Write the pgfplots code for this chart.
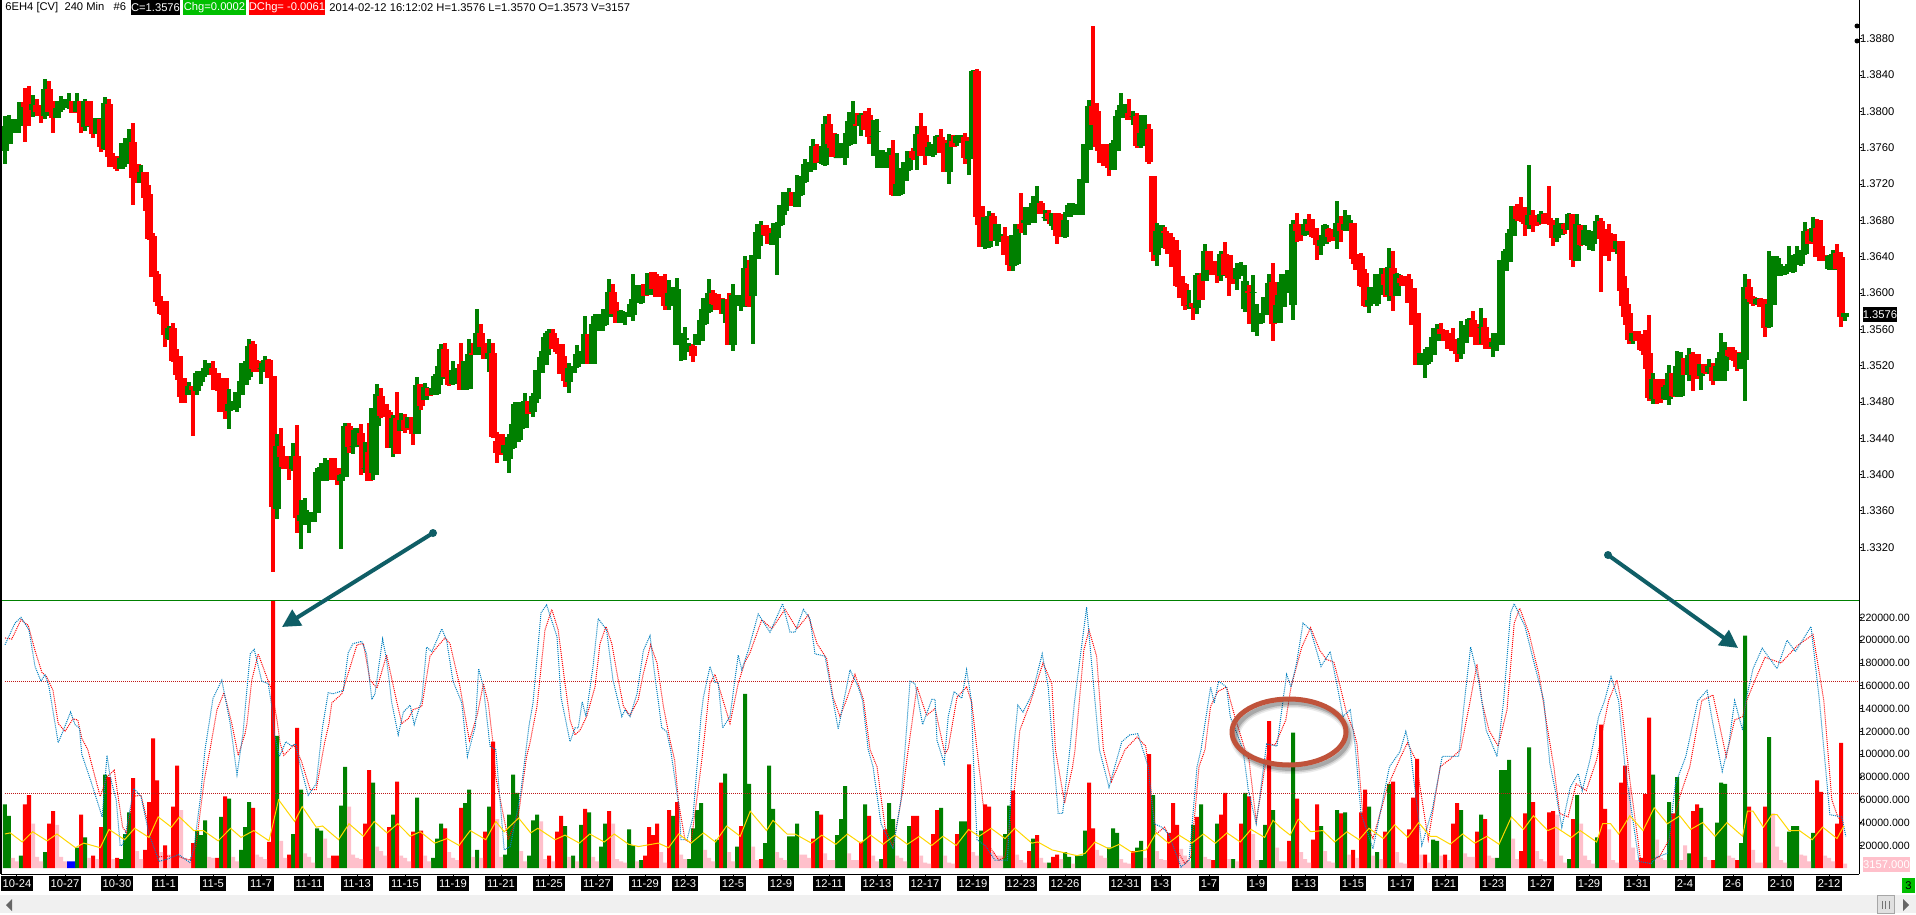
\documentclass[border=0pt]{standalone}
\usepackage{fontspec}
\setmainfont{Liberation Sans}
\usepackage{pgfplots}
\usepackage{pgfplotstable}
\pgfplotsset{compat=1.18}
\usetikzlibrary{arrows.meta}
\definecolor{candg}{HTML}{008000}
\definecolor{candr}{HTML}{FF0000}
\definecolor{volp}{HTML}{FFC0CB}
\definecolor{stochb}{HTML}{0080C0}
\definecolor{lvl}{HTML}{C01818}
\definecolor{arrowc}{HTML}{0F5E66}
\definecolor{ovalc}{HTML}{C0533B}
\pgfdeclareplotmark{nothing}{}
\newcommand{\sm}{\fontsize{5.6}{6.5}\selectfont}
\newcommand{\smv}{\fontsize{5.3}{6.5}\selectfont}

% candles, one row per 240 min bar, prices in 1/10000
\pgfplotstableread{
o h l c
13757 13794 13743 13783
13765 13796 13765 13791
13777 13789 13777 13789
13777 13791 13777 13791
13785 13810 13785 13810
13810 13825 13767 13806
13809 13828 13784 13801
13802 13818 13794 13808
13807 13813 13796 13800
13806 13807 13788 13796
13796 13835 13792 13824
13824 13833 13800 13800
13811 13811 13777 13793
13793 13811 13793 13803
13802 13817 13800 13809
13805 13813 13805 13813
13805 13820 13803 13811
13811 13811 13799 13799
13800 13820 13800 13811
13811 13811 13777 13788
13784 13813 13779 13811
13811 13811 13785 13785
13791 13791 13771 13776
13776 13792 13776 13792
13791 13791 13756 13761
13759 13816 13758 13809
13808 13813 13739 13750
13750 13754 13739 13741
13750 13750 13735 13737
13737 13765 13737 13748
13743 13770 13739 13765
13747 13780 13745 13765
13766 13787 13698 13727
13742 13742 13722 13722
13722 13741 13722 13733
13733 13733 13691 13705
13709 13718 13659 13660
13662 13666 13618 13618
13621 13624 13586 13591
13591 13596 13577 13578
13591 13591 13541 13554
13550 13563 13549 13561
13561 13567 13525 13526
13529 13538 13505 13510
13506 13530 13480 13486
13497 13506 13480 13488
13488 13502 13488 13497
13497 13497 13443 13494
13493 13514 13488 13512
13503 13514 13498 13514
13511 13526 13508 13517
13512 13523 13510 13516
13517 13525 13494 13510
13511 13511 13493 13499
13506 13506 13470 13470
13506 13506 13462 13470
13471 13494 13451 13477
13472 13481 13472 13481
13474 13491 13470 13491
13488 13523 13488 13503
13499 13525 13499 13514
13508 13549 13505 13541
13543 13547 13514 13517
13525 13526 13514 13514
13517 13522 13501 13517
13514 13530 13514 13526
13526 13527 13507 13507
13508 13508 13294 13365
13363 13444 13352 13431
13431 13451 13409 13420
13420 13420 13407 13407
13415 13418 13395 13408
13407 13434 13405 13420
13420 13454 13336 13353
13350 13372 13319 13355
13345 13374 13350 13361
13350 13358 13336 13358
13348 13358 13348 13358
13358 13407 13358 13402
13405 13413 13399 13408
13394 13418 13394 13407
13405 13416 13406 13415
13418 13418 13395 13395
13407 13407 13389 13395
13394 13400 13319 13399
13398 13456 13398 13453
13453 13456 13425 13431
13431 13449 13423 13431
13431 13451 13431 13451
13445 13455 13400 13433
13407 13436 13402 13407
13425 13456 13395 13394
13403 13473 13395 13473
13454 13499 13400 13488
13486 13495 13463 13465
13477 13477 13464 13464
13469 13471 13430 13430
13430 13465 13420 13462
13462 13491 13435 13424
13449 13467 13449 13460
13460 13466 13447 13450
13452 13463 13452 13463
13463 13463 13433 13445
13445 13507 13445 13498
13499 13499 13472 13476
13483 13500 13483 13496
13495 13495 13487 13487
13489 13508 13488 13495
13489 13519 13488 13510
13506 13544 13499 13538
13538 13544 13509 13508
13515 13515 13498 13499
13501 13525 13499 13515
13502 13517 13501 13517
13521 13544 13494 13494
13494 13525 13494 13525
13495 13549 13495 13533
13533 13544 13532 13532
13533 13582 13533 13556
13556 13565 13541 13541
13543 13544 13528 13528
13528 13549 13514 13534
13534 13544 13441 13442
13437 13447 13414 13425
13444 13444 13422 13431
13424 13432 13416 13432
13418 13444 13403 13441
13430 13478 13429 13455
13437 13480 13437 13480
13451 13480 13439 13480
13452 13489 13452 13481
13481 13481 13468 13468
13470 13490 13464 13486
13484 13515 13480 13515
13513 13536 13513 13529
13522 13556 13522 13551
13545 13560 13533 13558
13556 13560 13539 13539
13538 13550 13534 13536
13543 13543 13512 13512
13512 13530 13497 13504
13503 13523 13491 13517
13513 13519 13513 13519
13519 13542 13518 13532
13528 13536 13527 13532
13522 13574 13522 13554
13554 13554 13523 13523
13523 13574 13523 13565
13561 13577 13559 13576
13559 13572 13559 13571
13565 13582 13564 13582
13574 13615 13574 13601
13601 13610 13578 13578
13578 13590 13568 13568
13568 13581 13568 13580
13574 13578 13565 13579
13574 13588 13574 13578
13576 13621 13570 13593
13593 13609 13590 13609
13590 13609 13589 13609
13609 13609 13597 13597
13599 13622 13598 13622
13623 13623 13605 13605
13616 13621 13596 13596
13611 13618 13596 13601
13600 13620 13582 13586
13586 13614 13582 13600
13587 13606 13586 13604
13543 13616 13543 13604
13543 13555 13526 13550
13549 13562 13527 13550
13537 13544 13536 13543
13541 13544 13525 13531
13543 13554 13543 13554
13548 13582 13548 13570
13567 13594 13566 13594
13580 13615 13579 13600
13600 13603 13588 13589
13599 13599 13582 13582
13594 13594 13578 13582
13578 13593 13568 13593
13593 13600 13543 13543
13543 13610 13537 13597
13591 13597 13586 13597
13587 13596 13581 13596
13587 13640 13585 13627
13627 13636 13585 13587
13598 13642 13545 13641
13638 13676 13638 13667
13664 13679 13653 13674
13674 13675 13664 13665
13671 13671 13655 13655
13654 13677 13653 13666
13661 13678 13620 13676
13675 13697 13674 13696
13691 13711 13686 13711
13703 13715 13702 13703
13711 13711 13697 13697
13695 13730 13695 13711
13709 13728 13708 13727
13723 13747 13722 13742
13734 13744 13734 13743
13736 13769 13736 13762
13762 13764 13744 13744
13744 13761 13743 13744
13742 13794 13741 13786
13786 13797 13760 13765
13776 13776 13751 13751
13749 13775 13749 13749
13749 13765 13749 13765
13749 13776 13742 13764
13764 13799 13763 13789
13765 13811 13765 13787
13786 13798 13785 13785
13785 13798 13774 13796
13796 13800 13780 13780
13796 13803 13765 13772
13772 13790 13751 13772
13778 13791 13738 13778
13738 13757 13738 13757
13738 13755 13738 13754
13742 13759 13741 13752
13752 13768 13708 13709
13708 13754 13708 13720
13710 13737 13709 13724
13724 13744 13724 13744
13736 13756 13735 13756
13756 13759 13747 13749
13757 13784 13736 13775
13775 13798 13752 13752
13774 13784 13742 13753
13752 13766 13752 13760
13753 13764 13751 13760
13756 13773 13755 13772
13771 13780 13755 13755
13768 13768 13734 13734
13734 13775 13721 13765
13767 13773 13761 13761
13766 13773 13762 13772
13767 13774 13766 13773
13771 13776 13743 13749
13748 13767 13731 13767
13755 13845 13754 13844
13844 13846 13675 13684
13695 13695 13651 13651
13651 13683 13649 13683
13651 13690 13650 13684
13684 13688 13658 13658
13658 13676 13652 13676
13658 13665 13657 13663
13662 13672 13642 13642
13642 13646 13625 13631
13631 13664 13625 13663
13633 13676 13632 13676
13676 13710 13667 13671
13678 13694 13665 13680
13680 13694 13676 13686
13678 13707 13678 13699
13699 13717 13694 13699
13699 13701 13688 13688
13683 13691 13680 13683
13688 13691 13677 13682
13674 13688 13670 13688
13688 13688 13655 13663
13686 13687 13662 13662
13662 13689 13661 13680
13684 13699 13684 13697
13687 13699 13687 13697
13687 13697 13687 13698
13687 13725 13686 13725
13722 13764 13722 13764
13758 13812 13758 13806
13806 13894 13786 13786
13800 13809 13757 13761
13764 13764 13744 13744
13764 13764 13741 13741
13751 13760 13729 13738
13736 13768 13736 13765
13757 13801 13757 13795
13793 13820 13793 13807
13798 13808 13798 13808
13798 13813 13791 13791
13794 13800 13786 13794
13794 13798 13760 13763
13763 13796 13760 13776
13764 13795 13763 13779
13780 13786 13743 13745
13728 13728 13636 13646
13643 13677 13631 13668
13651 13674 13650 13674
13668 13672 13649 13667
13666 13666 13644 13644
13654 13661 13629 13629
13647 13658 13607 13608
13618 13618 13595 13595
13610 13611 13582 13587
13587 13603 13583 13587
13589 13589 13571 13585
13584 13622 13577 13619
13619 13622 13593 13593
13614 13654 13614 13646
13646 13646 13626 13626
13635 13635 13621 13621
13633 13633 13612 13621
13620 13646 13614 13643
13643 13656 13620 13620
13641 13641 13597 13617
13619 13623 13611 13611
13616 13633 13604 13627
13620 13634 13620 13630
13583 13630 13580 13613
13602 13609 13567 13601
13601 13619 13558 13601
13568 13587 13553 13577
13568 13575 13567 13578
13576 13595 13576 13595
13587 13621 13576 13611
13612 13633 13548 13567
13568 13597 13568 13587
13586 13621 13568 13612
13601 13621 13585 13612
13601 13621 13601 13625
13588 13680 13571 13676
13676 13688 13657 13669
13676 13676 13658 13666
13664 13681 13663 13676
13676 13686 13669 13669
13671 13681 13661 13662
13663 13671 13637 13653
13652 13663 13643 13658
13655 13676 13655 13674
13670 13671 13657 13662
13670 13670 13658 13663
13662 13701 13649 13677
13677 13684 13657 13669
13670 13691 13669 13676
13670 13685 13669 13680
13677 13677 13633 13638
13642 13642 13626 13626
13640 13644 13607 13608
13622 13626 13585 13586
13586 13606 13579 13592
13589 13606 13589 13606
13589 13620 13586 13620
13599 13627 13599 13620
13620 13627 13596 13610
13599 13649 13592 13628
13627 13646 13581 13598
13597 13622 13597 13621
13616 13620 13608 13612
13616 13618 13608 13608
13615 13621 13590 13590
13605 13605 13565 13565
13578 13578 13521 13521
13521 13534 13521 13534
13521 13538 13507 13534
13525 13540 13523 13540
13533 13561 13533 13551
13548 13566 13548 13558
13560 13567 13556 13556
13559 13559 13548 13548
13549 13555 13539 13539
13549 13561 13537 13537
13543 13543 13525 13534
13534 13569 13528 13550
13546 13564 13546 13564
13554 13572 13554 13571
13570 13580 13552 13552
13564 13565 13543 13543
13562 13583 13545 13562
13562 13572 13539 13543
13546 13550 13539 13542
13541 13556 13530 13546
13544 13555 13537 13548
13544 13636 13544 13636
13625 13648 13625 13646
13635 13670 13635 13666
13664 13695 13663 13695
13695 13698 13680 13682
13693 13705 13679 13680
13684 13694 13663 13677
13676 13741 13671 13685
13685 13691 13668 13675
13682 13683 13674 13675
13679 13690 13677 13687
13687 13688 13677 13677
13682 13718 13676 13677
13679 13680 13653 13661
13661 13682 13657 13674
13665 13677 13664 13676
13676 13677 13666 13671
13670 13688 13670 13687
13687 13687 13629 13637
13636 13686 13636 13675
13674 13674 13653 13654
13654 13674 13653 13669
13653 13669 13648 13668
13655 13665 13647 13664
13660 13685 13660 13679
13679 13682 13602 13660
13670 13670 13641 13660
13666 13676 13636 13659
13665 13665 13646 13649
13649 13657 13644 13657
13657 13657 13586 13603
13605 13618 13566 13574
13578 13588 13545 13549
13548 13556 13545 13555
13558 13558 13548 13548
13555 13555 13537 13538
13548 13559 13517 13532
13534 13575 13482 13485
13484 13511 13479 13505
13505 13505 13479 13484
13505 13505 13480 13483
13484 13498 13483 13496
13484 13520 13477 13512
13512 13512 13486 13487
13487 13536 13486 13519
13487 13535 13486 13526
13528 13528 13510 13510
13511 13539 13504 13531
13532 13535 13493 13510
13532 13533 13506 13509
13509 13522 13494 13522
13522 13522 13512 13513
13514 13527 13512 13519
13518 13523 13499 13504
13504 13528 13504 13519
13509 13556 13504 13535
13515 13546 13504 13534
13537 13540 13530 13531
13537 13540 13526 13527
13535 13535 13515 13519
13517 13534 13517 13534
13527 13621 13482 13606
13606 13615 13591 13594
13595 13596 13586 13589
13589 13594 13588 13593
13593 13594 13585 13585
13592 13593 13552 13562
13563 13646 13562 13588
13587 13640 13587 13622
13620 13640 13619 13638
13620 13631 13619 13629
13622 13627 13621 13626
13626 13651 13625 13631
13624 13641 13623 13641
13631 13651 13631 13642
13633 13647 13631 13645
13644 13678 13643 13668
13668 13670 13655 13655
13658 13683 13657 13671
13671 13681 13640 13640
13651 13680 13636 13636
13641 13642 13636 13636
13627 13641 13626 13640
13626 13647 13626 13642
13644 13654 13627 13627
13639 13645 13563 13574
13574 13578 13570 13578
}\candles

% volume in thousands; t: 0 green, 1 red, 2 pink, 3 blue
\pgfplotstableread{
v t
56 0
46 0
9 2
6 2
11 0
56 1
64 1
39 2
10 2
6 2
14 0
39 1
50 1
38 2
10 2
6 2
6 3
6 3
18 0
47 1
27 0
9 2
11 1
8 2
36 1
82 0
80 1
8 2
9 1
8 0
30 0
49 0
79 1
15 2
8 2
16 1
58 1
114 1
77 1
14 2
20 1
12 2
54 1
90 1
51 2
9 2
6 2
22 1
33 0
29 0
42 0
10 2
9 2
9 1
45 0
63 1
61 0
10 2
6 2
16 0
36 0
58 0
53 1
12 2
10 2
8 2
23 1
235 1
116 0
24 2
9 2
12 1
30 0
123 1
69 0
13 2
10 2
5 2
35 0
33 0
26 2
9 2
11 1
11 1
55 0
89 0
54 2
12 2
9 2
8 2
39 1
86 1
75 0
19 2
15 2
11 2
36 1
47 0
76 1
11 2
9 2
6 2
32 1
62 0
33 1
11 2
6 2
9 0
26 0
39 0
35 1
14 2
9 2
7 2
53 1
57 0
69 0
10 2
16 0
9 2
32 1
54 0
111 1
43 2
10 2
12 0
47 0
82 0
66 0
15 2
6 2
11 0
42 0
47 0
41 2
8 2
11 1
6 2
32 1
46 1
37 0
10 2
11 0
6 2
38 0
52 1
49 0
10 2
6 2
19 0
39 0
50 1
39 2
8 2
6 2
5 2
34 0
20 0
6 2
7 0
11 1
36 1
29 1
39 1
14 2
5 2
51 1
46 0
58 1
12 2
8 2
8 0
35 0
51 0
57 0
16 2
9 2
6 2
25 0
75 1
83 0
14 2
6 2
19 0
37 1
153 0
74 0
19 2
7 2
8 1
22 0
90 0
52 0
14 2
9 2
7 2
28 0
28 0
39 0
12 2
12 2
9 2
26 1
50 0
47 1
13 2
7 2
7 2
29 0
43 0
72 0
13 2
7 2
7 2
23 1
56 0
46 1
11 2
6 2
8 0
34 1
57 0
43 0
11 2
9 2
6 2
37 0
46 1
46 1
11 2
5 2
4 2
30 1
51 1
53 0
11 2
5 2
4 2
30 1
41 0
41 0
91 1
14 2
11 2
33 0
56 1
54 1
14 2
11 2
11 2
30 0
55 0
68 1
12 2
7 2
5 2
15 1
26 0
29 1
9 2
5 2
5 0
10 1
12 1
8 2
14 0
10 0
4 2
11 0
11 0
33 0
75 1
35 1
16 2
11 2
9 2
18 0
35 0
31 0
8 2
5 2
4 2
15 1
18 0
24 0
9 2
100 1
64 0
15 2
8 2
7 2
31 1
57 1
38 1
17 2
11 2
6 2
38 0
45 1
56 0
10 2
8 2
7 1
39 0
47 1
66 1
8 2
8 0
6 2
39 1
66 0
63 1
30 2
7 2
7 0
38 0
129 1
51 0
18 2
6 2
6 2
24 1
119 0
61 1
14 2
8 2
5 2
25 1
56 1
37 0
15 2
6 2
5 2
51 0
48 1
49 0
12 2
16 1
9 2
49 1
69 1
54 0
11 2
14 0
8 2
32 1
74 0
76 1
14 2
5 2
4 2
34 1
62 1
96 1
12 2
12 1
5 2
25 0
24 0
11 2
12 1
7 2
39 1
57 1
51 0
13 2
10 2
10 2
32 1
47 0
43 1
11 2
9 2
9 0
86 0
86 0
95 0
26 2
8 2
15 1
48 1
106 0
58 1
15 2
8 2
6 2
49 1
50 1
47 2
11 2
5 2
8 0
43 1
64 0
39 2
11 2
7 2
4 2
27 0
126 1
52 1
34 2
7 2
5 2
75 1
90 1
71 2
18 2
7 2
9 1
65 1
132 1
82 0
25 2
9 2
7 2
58 0
48 1
80 0
7 2
20 2
13 0
50 1
56 1
53 0
10 2
7 2
7 1
40 0
75 0
74 0
11 2
9 2
7 1
22 0
204 0
54 1
16 2
5 2
5 2
54 1
115 0
48 2
19 2
7 2
5 2
32 0
37 0
37 0
12 2
11 2
6 2
31 0
77 1
67 1
11 2
9 2
6 2
39 1
110 1
4 2
}\volumes

\begin{document}
\begin{tikzpicture}
\path[use as bounding box] (0,0) rectangle (958pt,-457.5pt);
\fill[white] (0,0) rectangle (958pt,-457.5pt);

% price panel
\begin{axis}[
  at={(0.75pt,-300pt)}, anchor=south west,
  scale only axis, width=928.75pt, height=300pt,
  xmin=-0.875, xmax=463.5, ymin=1.3262, ymax=1.39226,
  axis x line=none, axis y line*=right,
  axis line style={draw=none},
  ytick={1.332,1.336,1.34,1.344,1.348,1.352,1.356,1.36,1.364,1.368,1.372,1.376,1.38,1.384,1.388},
  scaled y ticks=false,
  tick align=outside, major tick length=1.5pt,
  tick style={black,line width=0.5pt},
  yticklabel style={font=\sm,anchor=west,inner xsep=0pt,xshift=-1.2pt,
    /pgf/number format/fixed,/pgf/number format/fixed zerofill,
    /pgf/number format/precision=4,/pgf/number format/assume math mode=true},
]
\addplot[
  scatter, only marks, mark=nothing,
  visualization depends on=\thisrow{o}\as\vo,
  visualization depends on=\thisrow{h}\as\vh,
  visualization depends on=\thisrow{l}\as\vl,
  visualization depends on=\thisrow{c}\as\vc,
  scatter/@pre marker code/.code={%
    \ifdim\vc pt<\vo pt\def\barcol{candr}\else\def\barcol{candg}\fi
    \fill[color=\barcol] (-0.75pt,{(\vh-\vc)*0.4541pt}) rectangle (0.75pt,{(\vl-\vc)*0.4541pt});
    \fill[color=\barcol] (-1.75pt,0pt) rectangle (1.75pt,{(\vo-\vc)*0.4541pt});
  },
  scatter/@post marker code/.code={},
] table[x expr=\coordindex, y expr=\thisrow{c}/10000] {\candles};
\end{axis}

% volume and stochastic panel
\begin{axis}[
  at={(0.75pt,-437pt)}, anchor=south west,
  scale only axis, width=928.75pt, height=137pt,
  xmin=-0.875, xmax=463.5, ymin=-5.09, ymax=235.27,
  axis x line*=bottom, axis y line*=right,
  axis line style={black,line width=0.5pt,-},
  unbounded coords=discard,
  xtick={3,15,28,40,52,64,76,88,100,112,124,136,148,160,170,182,194,206,218,230,242,254,265,280,289,301,313,325,337,349,360,372,384,396,408,420,432,444,456},
  xticklabels={10-24,10-27,10-30,11-1,11-5,11-7,11-11,11-13,11-15,11-19,11-21,11-25,11-27,11-29,12-3,12-5,12-9,12-11,12-13,12-17,12-19,12-23,12-26,12-31,1-3,1-7,1-9,1-13,1-15,1-17,1-21,1-23,1-27,1-29,1-31,2-4,2-6,2-10,2-12},
  ytick={20,40,...,220},
  yticklabels={20000.000,40000.000,60000.000,80000.000,100000.00,120000.00,140000.00,160000.00,180000.00,200000.00,220000.00},
  tick align=outside, major tick length=1.5pt,
  tick style={black,line width=0.5pt},
  yticklabel style={font=\smv,anchor=west,inner xsep=0pt,xshift=-1.4pt},
  xticklabel style={font=\sm,text=white,fill=black,inner xsep=1pt,inner ysep=0pt,
    minimum height=7.5pt,anchor=north,yshift=0.5pt},
  bar shift=0pt, bar width=2pt,
]
\addplot[ybar,fill=candg,draw=none] table[x expr={\thisrow{t}==0?\coordindex:nan}, y=v] {\volumes};
\addplot[ybar,fill=candr,draw=none] table[x expr={\thisrow{t}==1?\coordindex:nan}, y=v] {\volumes};
\addplot[ybar,fill=volp,draw=none] table[x expr={\thisrow{t}==2?\coordindex:nan}, y=v] {\volumes};
\addplot[ybar,fill=blue,draw=none] table[x expr={\thisrow{t}==3?\coordindex:nan}, y=v] {\volumes};
\addplot[lvl,line width=0.5pt,dash pattern=on 0.5pt off 0.5pt] coordinates {(0,164) (463.5,164)};
\addplot[lvl,line width=0.5pt,dash pattern=on 0.5pt off 0.5pt] coordinates {(0,65.7) (463.5,65.7)};
% slow line
\addplot[candr,line width=0.5pt,dash pattern=on 0.5pt off 0.5pt] coordinates {
(0,202)(1.7,201)(4,218)(5.8,213)(7.5,191)(9.2,172)(10.4,168)(12,156)(13.3,127)(15,120)(17,131)(18.2,130)(19.2,114)(20.7,104)(23.8,63)(25.5,80)(27.3,86)(29.4,36)(30.4,31)(32,63)(34,64)(36.5,28)(38.5,10)(42.6,11)(46.2,7)(47.7,19)(49.8,77)(51.25,104)(53,139)(54.75,154)(56.7,127)(58.3,99)(60,118)(60.5,127)(61.7,165)(63.3,188)(65.4,168)(66.7,156)(68,130)(68.75,110)(69.7,99)(72.2,108)(74,95)(76.3,69)(77.8,69)(79.9,110)(81,127)(81.7,145)(84.2,153)(85.8,171)(88,196)(89.6,197)(91.25,165)(93,158)(95.4,187)(98,145)(99.2,127)(100.8,131)(102,139)(104.2,142)(106.25,186)(108,194)(110,202)(111.25,197)(113.75,159)(116.1,112)(118.1,135)(119.6,162)(120.8,145)(122,110)(122.7,80)(125.8,25)(128.4,48)(130.4,98)(131.25,110)(133,142)(135,209)(136.7,227)(138.3,209)(140,162)(141.25,130)(142.5,117)(143.75,121)(145.4,133)(147.5,159)(148.75,197)(150.25,212)(151.7,197)(153,171)(154.6,142)(156.25,134)(158.3,148)(159.6,171)(161.4,196)(163,180)(164.6,142)(166.25,112)(167.4,95)(168.4,57)(170,25)(171.5,22)(174,89)(175,120)(176.25,162)(177.5,170)(178.75,156)(181.25,127)(183.3,162)(185,181)(186.25,189)(189.2,218)(191.7,210)(195,227)(198,210)(200.8,222)(203,197)(205.4,184)(207,150)(208.75,133)(210.4,148)(212.5,170)(214.6,148)(216.25,104)(218,89)(220,36)(222,19)(224.6,71)(225.8,104)(228,159)(230.4,134)(232.5,140)(235,100)(235.8,105)(238,150)(240.4,159)(241.7,145)(243,104)(244,74)(245.5,22)(248.5,7)(250,10)(252.1,60)(253.7,121)(256.3,145)(259.5,180)(261.7,162)(262.6,104)(264.9,57)(266.9,89)(267.5,104)(269.7,191)(271,209)(272.9,186)(274.6,104)(276.6,76)(280,104)(283,115)(285.2,107)(286.3,74)(287.8,30)(289.9,36)(292.4,19)(295,4)(296.5,10)(298.5,89)(300,104)(301.4,142)(303.2,155)(305.4,159)(307.7,130)(310,104)(311,95)(312.8,41)(315,89)(316,109)(317.5,108)(320.2,130)(321.5,159)(324.2,194)(326.4,211)(328.7,191)(330.4,183)(332.2,181)(333.6,162)(335.4,136)(337.1,121)(338,109)(339.5,45)(342,26)(345.6,71)(348.7,96)(350.6,110)(352.7,95)(355.8,25)(358.8,89)(361.4,96)(363.9,104)(366.2,145)(368,179)(369.3,145)(371,121)(373.3,107)(375.5,139)(377.3,215)(378.7,228)(381,206)(383.6,168)(385.4,127)(387.2,89)(388.7,48)(390.75,45)(392.8,74)(395.3,68)(397.9,95)(400.9,147)(403,165)(404,147)(406,83)(409,4)(413.6,10)(416,25)(418.7,63)(421.2,89)(424.2,147)(427,152)(430.3,98)(432.4,130)(434.4,133)(435.4,147)(437.5,165)(440,185)(444,180)(448,195)(452,205)(454.7,147)(456.7,60)(458.2,45)(459.7,39)
};
% fast line
\addplot[stochb,line width=0.5pt,dash pattern=on 0.5pt off 0.5pt] coordinates {
(0,196)(2.5,215)(4,220)(6,209)(7.5,177)(9,164)(10,170)(11,159)(13.3,110)(14.6,121)(16.4,137)(17.5,126)(18.6,123)(19.2,100)(21.5,76)(24.3,45)(25.5,99)(26.3,80)(27.8,60)(28.8,20)(29.4,20)(30.4,35)(32.2,70)(34,63)(36,30)(38.5,6)(40.6,8)(43.4,12)(46.2,5)(47.2,17)(48.8,60)(50,104)(52,149)(54.2,165)(56.3,127)(58,82)(59.5,118)(60.3,150)(61.3,188)(62.3,192)(64.2,164)(65.8,162)(66.7,142)(67.3,118)(68.6,98)(70.2,111)(71.7,107)(72.7,109)(73.7,92)(75.8,64)(77.8,74)(79.3,122)(80.8,154)(82,153)(84.6,156)(85.8,189)(87,197)(89.2,199)(90.4,188)(91.7,148)(92.5,153)(94.4,201)(95.4,183)(96.7,145)(98.3,117)(99.6,137)(101.3,143)(102.3,126)(104.2,148)(105.4,194)(106.7,190)(109.2,210)(110.4,200)(112,164)(114.2,145)(115.6,98)(117.6,125)(118.4,175)(119.6,159)(121.25,107)(122.7,104)(124.8,16)(126.3,19)(128.8,63)(131,125)(132,145)(134,224)(135.4,231)(138,203)(139,150)(141.25,111)(142.5,123)(143.3,123)(144.3,146)(145.25,133)(147,177)(148.3,219)(150.4,209)(152,165)(154.2,133)(155,139)(156.25,133)(158,153)(159.6,191)(161.25,204)(162.5,168)(164.2,123)(165.4,120)(166.4,104)(168.5,54)(169,25)(170.5,25)(172,45)(174,133)(174.6,150)(176.25,177)(177.5,163)(178.3,163)(179.4,123)(181.25,133)(183.3,187)(184.2,174)(185.8,191)(188.3,223)(191.25,207)(194.4,232)(196.25,207)(197.5,207)(199.6,227)(201.25,219)(202.5,188)(205,186)(206.25,162)(208.3,122)(211.25,174)(213.3,159)(214.4,147)(215.8,104)(217,89)(219,39)(222,17)(224,60)(225,104)(226.25,164)(227.5,162)(229.4,126)(231.7,148)(232.5,148)(233,112)(234.8,92)(235.8,133)(237.25,155)(239.2,149)(240.4,174)(241.6,147)(242,104)(243,25)(245,20)(247.5,7)(250.6,7)(251.8,89)(252.3,110)(253.2,143)(254.5,137)(256.8,153)(259.3,188)(260.8,159)(262,104)(263.3,48)(264.4,48)(266.2,104)(267.4,147)(268.4,174)(270.4,229)(272.1,162)(273.6,104)(276,71)(279.2,111)(281.2,117)(283.2,118)(285.8,89)(286.3,71)(287.3,39)(289.2,36)(290.9,30)(294,1)(296,7)(298,89)(299,104)(301.4,159)(302.3,145)(303.4,164)(305.4,159)(306.3,133)(308,118)(309.5,104)(310.8,69)(312.8,39)(315.4,109)(318,107)(319.3,142)(320.4,170)(321.5,159)(322.9,180)(324.5,215)(326.4,209)(329,177)(331.3,190)(333.1,159)(334.5,133)(336.3,139)(337.5,109)(339,48)(342,17)(346.1,89)(348.7,102)(350.2,120)(351.3,104)(354.2,20)(356.8,51)(359.3,98)(363.4,98)(364.8,145)(366.4,194)(368.4,165)(370.3,121)(373,98)(374.6,145)(376.4,224)(377.3,232)(380,212)(382.7,174)(384.7,147)(386.2,92)(387.7,66)(389.2,36)(391.3,71)(393.3,83)(394.3,68)(396.3,96)(398.4,133)(399.9,147)(401.5,168)(403.4,147)(405,89)(408.5,6)(411.5,4)(413,10)(415.6,13)(417.6,74)(420.2,98)(423.2,147)(425.5,156)(426.8,130)(429.3,85)(431,110)(432.4,147)(434.4,121)(435.2,147)(437,175)(439.3,193)(443,175)(445.5,200)(447.6,190)(451.5,212)(453.6,147)(456.2,47)(459.2,45)(460.2,28)
};
% volume average
\addplot[color={rgb,255:red,255;green,215;blue,0},line width=0.5pt] coordinates {
(0,30)(1.3,31)(4.3,23)(6.9,32)(10.5,24)(13,30)(17.6,18)(19.7,22)(23.8,18)(26,34)(29.9,25)(32.4,35)(36,27)(38.3,45)(41.6,36)(43.6,45)(47.2,33)(49.6,33)(53.3,24)(56.4,35)(59,27)(62.2,33)(66,24)(68.4,60)(72.4,41)(74.3,54)(77.8,36)(79.4,37)(83.4,25)(86,39)(89.6,28)(92.3,41)(95.5,31)(98.2,39)(101.3,28)(103.8,32)(107.4,22)(110.5,26)(113.5,20)(116.3,33)(120.2,25)(122.7,41)(124.8,32)(128.4,44)(131.4,31)(133.2,35)(137.5,25)(140,29)(143.6,22)(146.2,30)(149.8,23)(152.3,30)(155.9,21)(158.4,19)(163.3,22)(165.9,18)(168.4,30)(171.5,22)(174.6,31)(177.6,23)(180.4,37)(183.8,28)(186.3,50)(190.4,33)(192,42)(195.5,30)(197.5,30)(201.6,22)(204.2,29)(207.7,21)(210.6,30)(213.9,22)(216.4,29)(219.5,21)(222.5,29)(225.6,21)(228.6,28)(231.7,20)(234.5,28)(237.8,20)(240.9,34)(243.5,28)(246.5,35)(250,26)(252.4,35)(256.7,22)(258.2,23)(261.8,16)(268,11)(270,13)(272.5,23)(276,17)(278.6,21)(281.7,14)(285.3,16)(287.8,31)(290.9,22)(293.5,29)(296.7,22)(299.6,30)(302.6,22)(305.5,31)(308.8,23)(311.5,34)(314.9,27)(317,42)(318.75,36)(321.3,29)(323.3,43)(326.4,32)(329.4,33)(332.4,23)(335.5,32)(338.5,25)(341,35)(344.6,26)(347.4,38)(350.7,27)(353.4,40)(356.3,28)(357.8,28)(361.3,21)(364.4,30)(367.4,22)(370.5,28)(373.5,21)(376.6,45)(379.6,34)(382.1,46)(385.7,33)(387.7,36)(391.6,27)(393.8,33)(397.9,23)(399.4,39)(401.4,39)(403.4,30)(406.2,46)(409.5,33)(412.3,53)(415.6,39)(418.7,46)(421.4,34)(424.4,40)(427.5,28)(430.5,40)(434.4,28)(435.6,50)(437,50)(439.6,36)(441.7,47)(443,47)(446,33)(448.6,33)(451.8,25)(454.4,36)(458,26)(459.7,37)
};
\end{axis}

% chart frame, header, markup: positions in reference pixels
\begin{scope}[x=0.5pt,y=-0.5pt,font=\sm]
\fill[black] (0,0) rectangle (1.5,874);
\draw[black,line width=0.5pt] (1859,0) -- (1859,874);
\draw[candg,line width=0.5pt] (2,600) -- (1859,600);
\fill[black] (1857,26) circle (2.5);
\fill[black] (1857,41) circle (2.5);
\node[anchor=west,inner sep=0pt] at (5,8) {6EH4 [CV]\ \ 240 Min\ \ \ \#6};
\fill[black] (131,0) rectangle (180,15);
\node[text=white,inner sep=0pt] at (155.5,8) {C=1.3576};
\fill[green!75!black] (183,0) rectangle (246,15);
\node[text=white,inner sep=0pt] at (214.5,8) {Chg=0.0002};
\fill[red] (249,0) rectangle (325,15);
\node[text=white,inner sep=0pt] at (287,8) {DChg= -0.0061};
\node[anchor=west,inner sep=0pt] at (329,8) {2014-02-12 16:12:02 H=1.3576 L=1.3570 O=1.3573 V=3157};
\fill[black] (1863,307) rectangle (1897,322);
\node[text=white,inner sep=0pt] at (1880,315) {1.3576};
\fill[volp] (1863,857) rectangle (1910,872);
\node[text=white,inner sep=0pt] at (1886.5,865) {3157.000};
% scroll bar
\fill[black!6] (0,895) rectangle (1916,913);
\fill[black!60] (12,899) -- (6,905) -- (12,911) -- cycle;
\fill[black!60] (1903,899) -- (1909,905) -- (1903,911) -- cycle;
\fill[black!12,draw=black!35,line width=0.25pt] (1877,895) rectangle (1894,913);
\draw[black!55,line width=0.25pt] (1882,901)--(1882,909) (1885.5,901)--(1885.5,909) (1889,901)--(1889,909);
\fill[green!75!black] (1902,878) rectangle (1915,893);
\node[inner sep=0pt] at (1908.5,886) {3};
% markup
\draw[arrowc,line width=2pt,-{Triangle[length=9pt,width=9pt]}] (433,533) -- (282,627);
\fill[arrowc] (433,533) circle (4);
\draw[arrowc,line width=2pt,-{Triangle[length=9pt,width=9pt]}] (1608,555) -- (1738,648);
\fill[arrowc] (1608,555) circle (4);
\foreach \w/\o in {5/.08,3.5/.12,2/.18}
  \draw[black,opacity=\o,line width=\w pt] (1292,736) ellipse [x radius=57,y radius=33];
\draw[ovalc,line width=2.5pt] (1289,732) ellipse [x radius=57,y radius=33];
\end{scope}
\end{tikzpicture}
\end{document}
